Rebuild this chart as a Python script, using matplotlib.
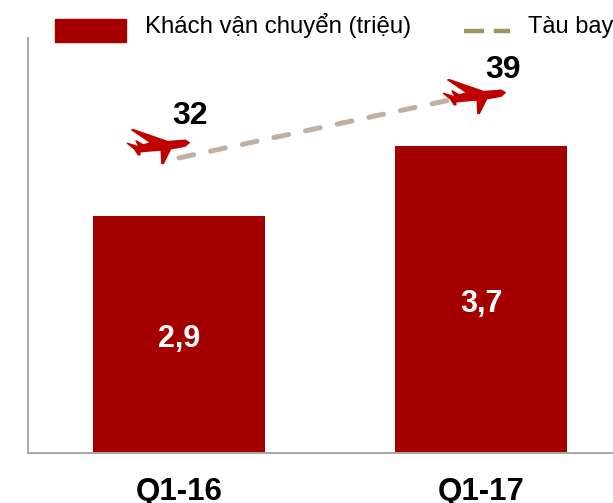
import matplotlib
matplotlib.use('Agg')
import matplotlib.pyplot as plt
from matplotlib.patches import Rectangle
from matplotlib.path import Path
from matplotlib.transforms import offset_copy

plt.rcParams['font.family'] = ['Liberation Sans', 'DejaVu Sans']

# Data
quarters = ['Q1-16', 'Q1-17']
passengers = [2.86, 3.7]
passenger_labels = ['2,9', '3,7']
planes = [32, 39]

bar_color = '#A50000'
plane_color = '#C00000'

# plane outline
plane_pts = [(240, 95), (225, 86), (172, 90), (68, 54), (60, 57), (116, 95), (98, 100),
             (78, 88), (74, 90), (82, 105), (50, 95), (48, 98), (70, 116), (82, 134),
             (90, 134), (90, 125), (122, 122), (150, 120), (152, 160), (160, 160),
             (182, 116), (225, 108), (240, 95)]
plane_marker = Path([(x - 144, 107 - y) for x, y in plane_pts], closed=True)

fig = plt.figure(figsize=(6.13, 5.03), dpi=100)
ax = fig.add_axes([28 / 613, 50 / 503, 585 / 613, 415 / 503])

x = range(len(quarters))
ax.bar(x, passengers, width=0.57, color=bar_color)
for i, val in enumerate(passengers):
    ax.annotate(passenger_labels[i], (i, val / 2), xytext=(0, -3.6), textcoords='offset points',
                ha='center', va='center', color='white', fontsize=22, fontweight='bold')

ax.set_xlim(-0.5, 1.437)
ax.set_ylim(0, 5)
ax.set_xticks(list(x))
ax.set_xticklabels(quarters, fontsize=22.5, fontweight='bold')
ax.tick_params(axis='x', length=0, pad=17)
ax.set_yticks([])
for side in ['top', 'right']:
    ax.spines[side].set_visible(False)
for side in ['left', 'bottom']:
    ax.spines[side].set_color('#A6A6A6')
    ax.spines[side].set_linewidth(1.4)

# Planes on second axis
ax2 = ax.twinx()
ax2.set_ylim(0, 45)
ax2.set_yticks([])
for spine in ax2.spines.values():
    spine.set_visible(False)
ax2.plot(x, planes, color='#BFB0A3', linewidth=3.6, dashes=(3.0, 3.47),
         dash_capstyle='round')

plane_offsets = [(-21, 12), (-7.5, -3)]
label_offsets = [(11, 42), (22, 23)]
for i, val in enumerate(planes):
    tr = offset_copy(ax2.transData, fig=fig, x=plane_offsets[i][0], y=plane_offsets[i][1],
                     units='dots')
    ax2.plot([i], [val], marker=plane_marker, markersize=46, color=plane_color,
             markeredgewidth=0, linestyle='none', transform=tr, clip_on=False)
    ax2.annotate(str(val), (i, val), xytext=(label_offsets[i][0] * 0.72, label_offsets[i][1] * 0.72),
                 textcoords='offset points', ha='center', va='center',
                 fontsize=23, fontweight='bold', color='black')

# Legend
fig.add_artist(Rectangle((55 / 613, 1 - 42 / 503), 71 / 613, 23 / 503, color=bar_color,
                         transform=fig.transFigure))
fig.text(145 / 613, 1 - 33.5 / 503, 'Khách vận chuyển (triệu)', fontsize=17.3, va='baseline',
         color='black')
fig.add_artist(plt.Line2D([464 / 613, 510 / 613], [1 - 31 / 503] * 2, color='#A09660',
                          linewidth=3.2, dashes=(4.5, 2.2), transform=fig.transFigure))
fig.text(528 / 613, 1 - 33.5 / 503, 'Tàu bay', fontsize=17, va='baseline', color='black')

plt.savefig('out.png', dpi=100)
